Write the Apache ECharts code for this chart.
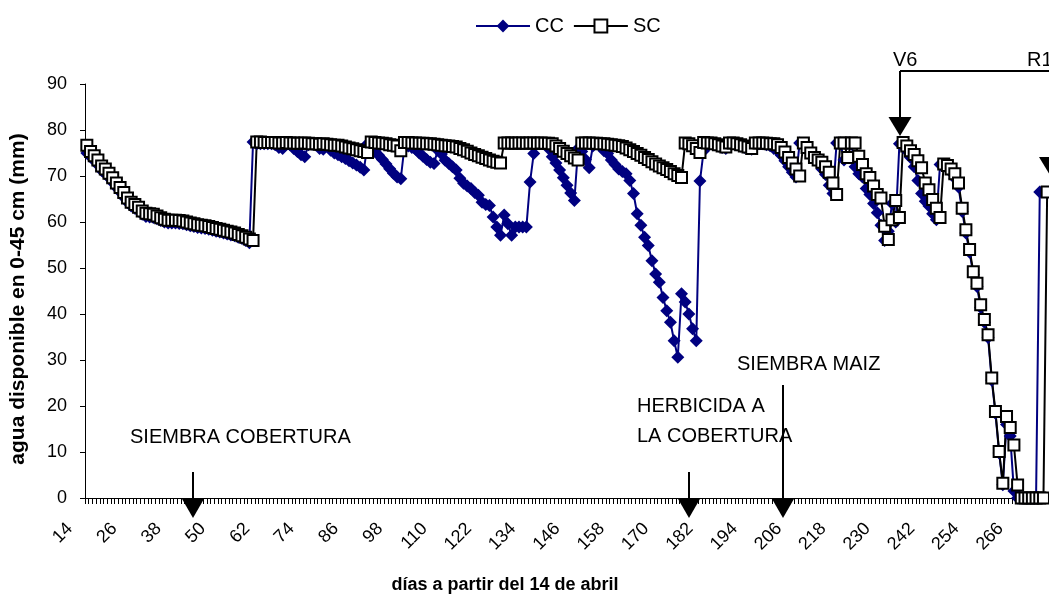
<!DOCTYPE html>
<html><head><meta charset="utf-8">
<script src="https://cdn.jsdelivr.net/npm/echarts@6/dist/echarts.min.js"></script>
<style>html,body{margin:0;padding:0;background:#fff}#c{width:1049px;height:599px}</style>
</head><body><div id="c"></div>
<script>
// Categories: days since 14 April
const firstDay = 14, lastDay = 274;
const days = [];
for (let d = firstDay; d <= lastDay; d++) days.push(String(d));

// CC series (available water, mm) one value per day 14..274
const cc = [
75.0,74.2,73.3,72.4,71.2,70.5,69.6,68.6,67.5,66.5,
65.4,64.3,63.5,63.0,62.4,61.7,61.2,61.1,61.0,60.7,
60.3,60.0,59.8,59.8,59.8,59.7,59.6,59.4,59.2,59.0,
58.8,58.7,58.6,58.4,58.2,58.0,57.8,57.6,57.4,57.2,
57.0,56.7,56.4,56.0,55.5,77.4,77.0,77.0,77.0,77.0,
77.0,76.8,76.2,76.0,77.0,76.8,76.0,75.3,74.6,74.2,
76.8,76.9,76.8,76.0,75.8,76.8,75.6,75.0,74.6,74.2,
73.8,73.3,72.8,72.4,71.9,71.3,77.0,76.5,75.4,74.5,
73.6,72.6,71.6,70.6,69.8,69.4,76.5,76.5,76.2,75.8,
75.0,74.3,73.6,73.0,72.7,75.6,74.8,73.4,72.7,72.0,
71.3,69.5,68.4,67.8,67.3,66.4,65.8,64.3,63.8,63.6,
61.1,58.9,57.1,61.5,59.6,57.1,58.9,58.9,58.9,58.9,
68.7,74.9,77.0,77.2,77.0,76.0,74.2,72.8,71.3,69.6,
68.0,66.3,64.7,76.0,75.3,73.6,71.8,76.5,77.0,76.5,
75.5,74.9,73.5,72.5,71.5,71.0,70.5,69.0,66.2,61.8,
59.3,56.7,54.9,51.6,48.7,46.9,43.6,40.7,38.2,34.2,
30.6,44.4,42.6,40.0,36.8,34.2,68.9,75.5,77.0,77.0,
76.8,76.5,76.2,76.0,77.0,77.0,76.8,76.5,76.2,76.0,
75.8,77.0,77.0,77.0,76.8,76.6,76.0,75.5,74.5,73.3,
72.0,70.8,69.8,77.2,77.0,76.0,75.0,74.0,73.2,71.5,
70.3,68.0,66.2,77.2,77.2,73.5,77.2,77.0,72.0,70.5,
69.8,67.3,66.0,64.0,62.0,59.3,56.0,58.0,64.0,60.0,
77.0,76.5,75.5,74.0,72.0,69.0,66.2,64.5,63.5,61.8,
60.5,72.5,72.4,71.8,70.8,69.5,67.6,62.3,57.6,53.4,
48.6,46.0,41.4,38.2,34.9,25.6,18.4,9.8,2.9,16.0,
13.5,1.5,0,0,0,0,0,0,66.5,null,
null
];

// SC series (available water, mm) one value per day 14..274
const sc = [
76.7,75.3,74.4,73.5,72.2,71.5,70.6,69.6,68.5,67.5,
66.4,65.2,64.3,63.8,63.2,62.4,61.9,61.8,61.7,61.3,
60.9,60.6,60.4,60.4,60.4,60.3,60.2,60.0,59.8,59.6,
59.4,59.3,59.2,59.0,58.8,58.6,58.4,58.2,58.0,57.8,
57.6,57.3,57.0,56.7,56.3,56.0,77.4,77.4,77.3,77.3,
77.3,77.3,77.2,77.2,77.3,77.2,77.2,77.1,77.1,77.2,
77.1,77.0,77.0,76.9,77.0,76.9,76.8,76.7,76.7,76.5,
76.3,76.1,75.9,75.7,75.5,75.3,75.1,77.4,77.3,77.2,
77.1,77.0,76.8,76.7,76.5,75.5,77.3,77.3,77.2,77.2,
77.1,77.1,77.0,77.0,76.9,76.8,76.7,76.6,76.5,76.4,
76.3,76.0,75.7,75.4,75.0,74.7,74.4,74.1,73.8,73.5,
73.2,73.0,72.8,77.2,77.2,77.2,77.1,77.2,77.2,77.1,
77.2,77.2,77.1,77.2,77.1,77.1,77.0,76.5,76.0,75.4,
74.9,74.4,73.9,73.5,77.2,77.2,77.2,77.1,77.1,77.0,
77.0,76.9,76.8,76.7,76.6,76.4,76.1,75.7,75.3,74.9,
74.5,74.0,73.6,73.1,72.6,72.2,71.8,71.4,71.0,70.5,
70.1,69.7,77.2,77.0,76.6,76.0,75.1,77.3,77.2,77.2,
77.0,76.8,76.5,76.3,77.2,77.2,77.0,76.8,76.5,76.3,
76.0,77.2,77.2,77.2,77.1,77.0,77.0,76.8,76.2,75.2,
74.0,72.8,71.5,70.0,77.2,76.2,75.0,74.0,73.5,73.0,
72.0,70.8,68.5,66.0,77.2,77.2,74.0,77.2,77.2,74.3,
72.5,70.5,69.7,67.8,66.0,65.2,59.1,56.2,60.5,64.7,
61.0,77.3,76.5,75.5,74.7,73.3,71.8,68.5,67.0,64.9,
63.0,61.0,72.6,72.3,71.5,70.5,68.5,63.0,58.3,54.0,
49.2,46.7,42.0,38.8,35.5,26.1,18.8,10.1,3.2,17.7,
15.3,11.5,2.8,0,0,0,0,0,0,0,
66.5
];

const yTicks = {min: 0, max: 90, step: 10};
const seriesNames = ['CC', 'SC'];

const FONT = "'Liberation Sans', Arial, sans-serif";
const chart = echarts.init(document.getElementById('c'), null, {renderer: 'canvas'});

function txt(t, x, y, size, opts) {
  opts = opts || {};
  return {
    type: 'text', x: x, y: y, rotation: opts.rotation || 0, z: 100,
    style: {
      text: t, fill: '#000',
      font: (opts.bold ? 'bold ' : '') + size + 'px ' + FONT,
      align: opts.align || 'left', verticalAlign: 'middle',
      textAlign: opts.align || 'left', textVerticalAlign: 'middle'
    }
  };
}
function vline(x, y1, y2) {
  return {type: 'line', z: 100, shape: {x1: x, y1: y1, x2: x, y2: y2}, style: {stroke: '#000', lineWidth: 2}};
}
function hline(x1, x2, y) {
  return {type: 'line', z: 100, shape: {x1: x1, y1: y, x2: x2, y2: y}, style: {stroke: '#000', lineWidth: 2}};
}
function head(x, top, tip) {
  return {type: 'polygon', z: 100, shape: {points: [[x - 11.5, top], [x + 11.5, top], [x, tip]]}, style: {fill: '#000'}};
}

const option = {
  animation: false,
  backgroundColor: '#fff',
  grid: {left: 85, right: 0, top: 84, bottom: 101},
  legend: {
    data: seriesNames, left: 475, top: 16, padding: 0,
    itemWidth: 54, itemHeight: 16, itemGap: 9,
    textStyle: {fontSize: 20, color: '#000', fontFamily: FONT}
  },
  xAxis: {
    type: 'category', data: days, boundaryGap: true,
    axisLine: {lineStyle: {color: '#000', width: 1}},
    axisTick: {show: true, interval: 0, length: 6, lineStyle: {color: '#000'}},
    axisLabel: {interval: 11, rotate: 45, fontSize: 18, color: '#000', fontFamily: FONT, margin: 11, padding: [0, 24, 0, 0]},
    splitLine: {show: false}
  },
  yAxis: {
    type: 'value', min: yTicks.min, max: yTicks.max, interval: yTicks.step,
    axisLine: {show: true, lineStyle: {color: '#000', width: 1}},
    axisTick: {show: true, length: 5, lineStyle: {color: '#000'}},
    axisLabel: {fontSize: 18, color: '#000', fontFamily: FONT, margin: 18},
    splitLine: {show: false}
  },
  series: [
    {
      name: 'CC', type: 'line', data: cc, showAllSymbol: true, connectNulls: false,
      symbol: 'diamond', symbolSize: 13,
      lineStyle: {color: '#000080', width: 2},
      itemStyle: {color: '#000080', borderColor: '#000080', borderWidth: 0},
      emphasis: {disabled: true}
    },
    {
      name: 'SC', type: 'line', data: sc, showAllSymbol: true, connectNulls: false,
      symbol: 'rect', symbolSize: 11,
      lineStyle: {color: '#000', width: 2},
      itemStyle: {color: '#fff', borderColor: '#000', borderWidth: 2},
      emphasis: {disabled: true}
    }
  ],
  graphic: [
    txt('agua disponible en 0-45 cm (mm)', 18, 299, 21, {bold: true, align: 'center', rotation: Math.PI / 2}),
    txt('días a partir del 14 de abril', 505, 585, 18, {bold: true, align: 'center'}),
    txt('SIEMBRA COBERTURA', 130, 437, 20),
    vline(193, 472, 500), head(193, 498, 518),
    txt('HERBICIDA A', 637, 406, 20),
    txt('LA COBERTURA', 637, 436, 20),
    vline(689, 472, 500), head(689, 498, 518),
    txt('SIEMBRA MAIZ', 737, 364, 20),
    vline(783, 385, 500), head(783, 498, 518),
    txt('V6', 893, 60, 20),
    txt('R1', 1027, 60, 20),
    hline(900, 1049, 71),
    vline(900, 71, 118), head(900, 117, 136),
    vline(1050.5, 71, 158), head(1050.5, 157, 176)
  ]
};
chart.setOption(option);
</script>
</body></html>
